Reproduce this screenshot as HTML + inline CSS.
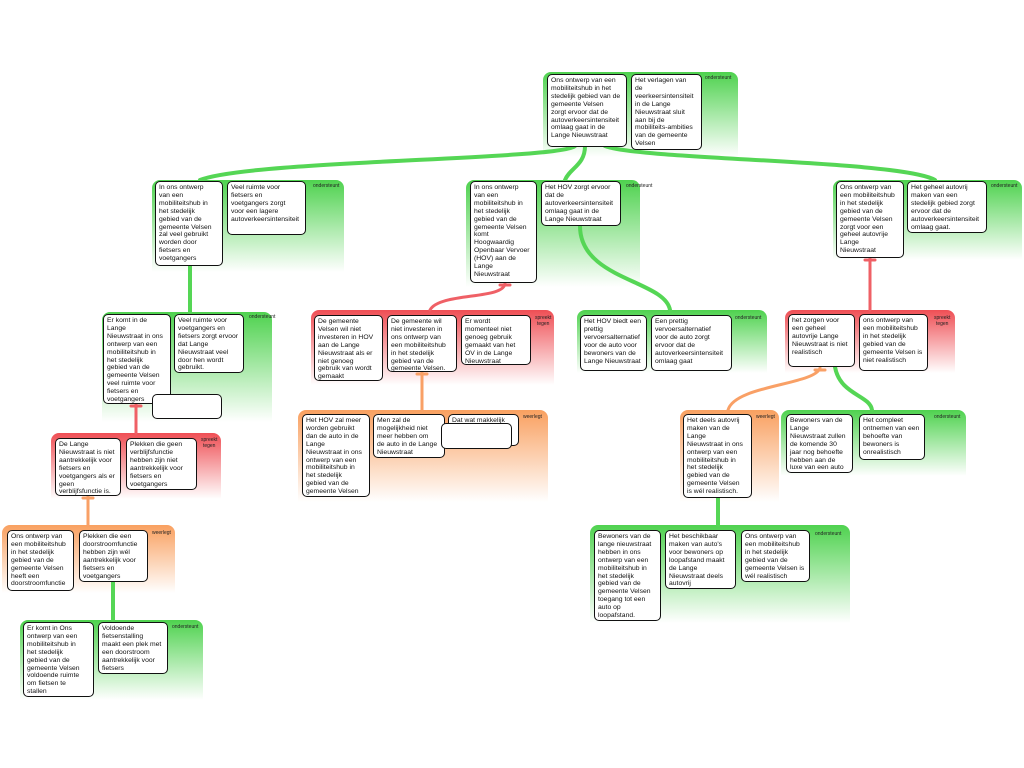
<!DOCTYPE html>
<html><head><meta charset="utf-8"><style>
body{margin:0;width:1024px;height:768px;background:#fff;position:relative;overflow:hidden;font-family:"Liberation Sans",Arial,sans-serif}
.p{position:absolute;border-radius:8px 8px 0 0}
.g{background:linear-gradient(#4fd24f,#ffffff)}
.r{background:linear-gradient(#ef4f55,#ffffff)}
.o{background:linear-gradient(#f9a060,#ffffff)}
.b{position:absolute;background:#fff;border:1.3px solid #111;border-radius:5px;font-size:6.8px;line-height:7.9px;padding:2px 3px;box-sizing:border-box;color:#111;overflow:hidden;white-space:nowrap}
.l{position:absolute;font-size:5px;line-height:5.5px;color:#222;text-align:center}
svg{position:absolute;left:0;top:0}
</style></head><body>
<div class="p g" style="left:543px;top:72px;width:195px;height:85px"></div>
<div class="p g" style="left:152px;top:180px;width:192px;height:92px"></div>
<div class="p g" style="left:466px;top:180px;width:174px;height:107px"></div>
<div class="p g" style="left:833px;top:180px;width:189px;height:80px"></div>
<div class="p g" style="left:102px;top:312px;width:170px;height:110px"></div>
<div class="p r" style="left:311px;top:310px;width:243px;height:75px"></div>
<div class="p g" style="left:577px;top:310px;width:190px;height:63px"></div>
<div class="p r" style="left:785px;top:310px;width:170px;height:63px"></div>
<div class="p o" style="left:298px;top:410px;width:250px;height:92px"></div>
<div class="p o" style="left:680px;top:410px;width:99px;height:92px"></div>
<div class="p g" style="left:781px;top:410px;width:185px;height:66px"></div>
<div class="p r" style="left:51px;top:433px;width:170px;height:66px"></div>
<div class="p o" style="left:2px;top:525px;width:173px;height:68px"></div>
<div class="p g" style="left:590px;top:525px;width:260px;height:98px"></div>
<div class="p g" style="left:20px;top:620px;width:183px;height:80px"></div>

<svg width="1024" height="768" fill="none" stroke-linecap="round">
<g stroke="#55d655" stroke-width="4">
<path d="M575 146 C 560 160, 250 160, 200 180"/>
<path d="M585 146 C 585 165, 570 168, 565 180"/>
<path d="M605 146 C 640 160, 900 160, 935 180"/>
<path d="M190 266 L190 312"/>
<path d="M580 226 C 580 280, 665 280, 670 310"/>
<path d="M835 367 C 840 395, 870 395, 872 410"/>
<path d="M113 582 L113 620"/>
<path d="M718 498 L718 525"/>
</g>
<g stroke="#ef6066" stroke-width="3">
<path d="M505 283 C 505 300, 440 292, 430 310"/>
<path d="M870 258 L870 310"/>
<path d="M136 404 L136 433"/>
<path d="M500 285 L510 285"/><path d="M865 260 L875 260"/><path d="M131 406 L141 406"/>
</g>
<g stroke="#f9a066" stroke-width="3">
<path d="M422 372 L422 410"/>
<path d="M820 368 C 815 385, 735 385, 728 410"/>
<path d="M88 496 L88 525"/>
<path d="M417 374 L427 374"/><path d="M815 370 L825 370"/><path d="M83 498 L93 498"/>
</g>
</svg>

<div class="l" style="left:705px;top:76px">ondersteunt</div>
<div class="l" style="left:313px;top:184px">ondersteunt</div>
<div class="l" style="left:626px;top:184px">ondersteunt</div>
<div class="l" style="left:991px;top:184px">ondersteunt</div>
<div class="l" style="left:249px;top:315px">ondersteunt</div>
<div class="l" style="left:535px;top:316px">spreekt<br>tegen</div>
<div class="l" style="left:735px;top:316px">ondersteunt</div>
<div class="l" style="left:934px;top:316px">spreekt<br>tegen</div>
<div class="l" style="left:523px;top:415px">weerlegt</div>
<div class="l" style="left:756px;top:415px">weerlegt</div>
<div class="l" style="left:934px;top:415px">ondersteunt</div>
<div class="l" style="left:201px;top:438px">spreekt<br>tegen</div>
<div class="l" style="left:152px;top:531px">weerlegt</div>
<div class="l" style="left:815px;top:532px">ondersteunt</div>
<div class="l" style="left:172px;top:625px">ondersteunt</div>

<div class="b" style="left:547px;top:74px;width:80px;height:73px">Ons ontwerp van een<br>mobiliteitshub in het<br>stedelijk gebied van de<br>gemeente Velsen<br>zorgt ervoor dat de<br>autoverkeersintensiteit<br>omlaag gaat in de<br>Lange Nieuwstraat</div>
<div class="b" style="left:631px;top:74px;width:71px;height:76px">Het verlagen van<br>de<br>veerkeersintensiteit<br>in de Lange<br>Nieuwstraat sluit<br>aan bij de<br>mobiliteits-ambities<br>van de gemeente<br>Velsen</div>

<div class="b" style="left:155px;top:181px;width:68px;height:85px">In ons ontwerp<br>van een<br>mobiliteitshub in<br>het stedelijk<br>gebied van de<br>gemeente Velsen<br>zal veel gebruikt<br>worden door<br>fietsers en<br>voetgangers</div>
<div class="b" style="left:227px;top:181px;width:79px;height:54px">Veel ruimte voor<br>fietsers en<br>voetgangers zorgt<br>voor een lagere<br>autoverkeersintensiteit</div>

<div class="b" style="left:470px;top:181px;width:67px;height:102px">In ons ontwerp<br>van een<br>mobiliteitshub in<br>het stedelijk<br>gebied van de<br>gemeente Velsen<br>komt<br>Hoogwaardig<br>Openbaar Vervoer<br>(HOV) aan de<br>Lange<br>Nieuwstraat</div>
<div class="b" style="left:541px;top:181px;width:80px;height:45px">Het HOV zorgt ervoor<br>dat de<br>autoverkeersintensiteit<br>omlaag gaat in de<br>Lange Nieuwstraat</div>

<div class="b" style="left:836px;top:181px;width:68px;height:77px">Ons ontwerp van<br>een mobiliteitshub<br>in het stedelijk<br>gebied van de<br>gemeente Velsen<br>zorgt voor een<br>geheel autovrije<br>Lange<br>Nieuwstraat</div>
<div class="b" style="left:907px;top:181px;width:80px;height:52px">Het geheel autovrij<br>maken van een<br>stedelijk gebied zorgt<br>ervoor dat de<br>autoverkeersintensiteit<br>omlaag gaat.</div>

<div class="b" style="left:103px;top:314px;width:68px;height:90px">Er komt in de<br>Lange<br>Nieuwstraat in ons<br>ontwerp van een<br>mobiliteitshub in<br>het stedelijk<br>gebied van de<br>gemeente Velsen<br>veel ruimte voor<br>fietsers en<br>voetgangers</div>
<div class="b" style="left:174px;top:314px;width:70px;height:59px">Veel ruimte voor<br>voetgangers en<br>fietsers zorgt ervoor<br>dat Lange<br>Nieuwstraat veel<br>door hen wordt<br>gebruikt.</div>
<div class="b" style="left:152px;top:394px;width:70px;height:25px"></div>

<div class="b" style="left:314px;top:315px;width:69px;height:66px">De gemeente<br>Velsen wil niet<br>investeren in HOV<br>aan de Lange<br>Nieuwstraat als er<br>niet genoeg<br>gebruik van wordt<br>gemaakt</div>
<div class="b" style="left:387px;top:315px;width:70px;height:57px">De gemeente wil<br>niet investeren in<br>ons ontwerp van<br>een mobiliteitshub<br>in het stedelijk<br>gebied van de<br>gemeente Velsen.</div>
<div class="b" style="left:461px;top:315px;width:70px;height:50px">Er wordt<br>momenteel niet<br>genoeg gebruik<br>gemaakt van het<br>OV in de Lange<br>Nieuwstraat</div>

<div class="b" style="left:580px;top:315px;width:67px;height:56px">Het HOV biedt een<br>prettig<br>vervoersalternatief<br>voor de auto voor<br>bewoners van de<br>Lange Nieuwstraat</div>
<div class="b" style="left:651px;top:315px;width:81px;height:56px">Een prettig<br>vervoersalternatief<br>voor de auto zorgt<br>ervoor dat de<br>autoverkeersintensiteit<br>omlaag gaat</div>

<div class="b" style="left:788px;top:314px;width:67px;height:53px">het zorgen voor<br>een geheel<br>autovrije Lange<br>Nieuwstraat is niet<br>realistisch</div>
<div class="b" style="left:859px;top:314px;width:69px;height:57px">ons ontwerp van<br>een mobiliteitshub<br>in het stedelijk<br>gebied van de<br>gemeente Velsen is<br>niet realistisch</div>

<div class="b" style="left:302px;top:414px;width:68px;height:83px">Het HOV zal meer<br>worden gebruikt<br>dan de auto in de<br>Lange<br>Nieuwstraat in ons<br>ontwerp van een<br>mobiliteitshub in<br>het stedelijk<br>gebied van de<br>gemeente Velsen</div>
<div class="b" style="left:373px;top:414px;width:72px;height:44px">Men zal de<br>mogelijkheid niet<br>meer hebben om<br>de auto in de Lange<br>Nieuwstraat</div>
<div class="b" style="left:448px;top:414px;width:71px;height:32px">Dat wat makkelijk</div>
<div class="b" style="left:441px;top:423px;width:71px;height:26px"></div>

<div class="b" style="left:683px;top:414px;width:69px;height:84px">Het deels autovrij<br>maken van de<br>Lange<br>Nieuwstraat in ons<br>ontwerp van een<br>mobiliteitshub in<br>het stedelijk<br>gebied van de<br>gemeente Velsen<br>is wél realistisch.</div>
<div class="b" style="left:786px;top:414px;width:67px;height:59px">Bewoners van de<br>Lange<br>Nieuwstraat zullen<br>de komende 30<br>jaar nog behoefte<br>hebben aan de<br>luxe van een auto</div>
<div class="b" style="left:859px;top:414px;width:66px;height:46px">Het compleet<br>ontnemen van een<br>behoefte van<br>bewoners is<br>onrealistisch</div>

<div class="b" style="left:55px;top:438px;width:66px;height:58px">De Lange<br>Nieuwstraat is niet<br>aantrekkelijk voor<br>fietsers en<br>voetgangers als er<br>geen<br>verblijfsfunctie is.</div>
<div class="b" style="left:126px;top:438px;width:71px;height:52px">Plekken die geen<br>verblijfsfunctie<br>hebben zijn niet<br>aantrekkelijk voor<br>fietsers en<br>voetgangers</div>

<div class="b" style="left:7px;top:530px;width:67px;height:61px">Ons ontwerp van<br>een mobiliteitshub<br>in het stedelijk<br>gebied van de<br>gemeente Velsen<br>heeft een<br>doorstroomfunctie</div>
<div class="b" style="left:79px;top:530px;width:69px;height:52px">Plekken die een<br>doorstroomfunctie<br>hebben zijn wél<br>aantrekkelijk voor<br>fietsers en<br>voetgangers</div>

<div class="b" style="left:594px;top:530px;width:67px;height:91px">Bewoners van de<br>lange nieuwstraat<br>hebben in ons<br>ontwerp van een<br>mobiliteitshub in<br>het stedelijk<br>gebied van de<br>gemeente Velsen<br>toegang tot een<br>auto op<br>loopafstand.</div>
<div class="b" style="left:665px;top:530px;width:71px;height:59px">Het beschikbaar<br>maken van auto's<br>voor bewoners op<br>loopafstand maakt<br>de Lange<br>Nieuwstraat deels<br>autovrij</div>
<div class="b" style="left:741px;top:530px;width:69px;height:52px">Ons ontwerp van<br>een mobiliteitshub<br>in het stedelijk<br>gebied van de<br>gemeente Velsen is<br>wél realistisch</div>

<div class="b" style="left:23px;top:622px;width:71px;height:75px">Er komt in Ons<br>ontwerp van een<br>mobiliteitshub in<br>het stedelijk<br>gebied van de<br>gemeente Velsen<br>voldoende ruimte<br>om fietsen te<br>stallen</div>
<div class="b" style="left:98px;top:622px;width:70px;height:52px">Voldoende<br>fietsenstalling<br>maakt een plek met<br>een doorstroom<br>aantrekkelijk voor<br>fietsers</div>
</body></html>
